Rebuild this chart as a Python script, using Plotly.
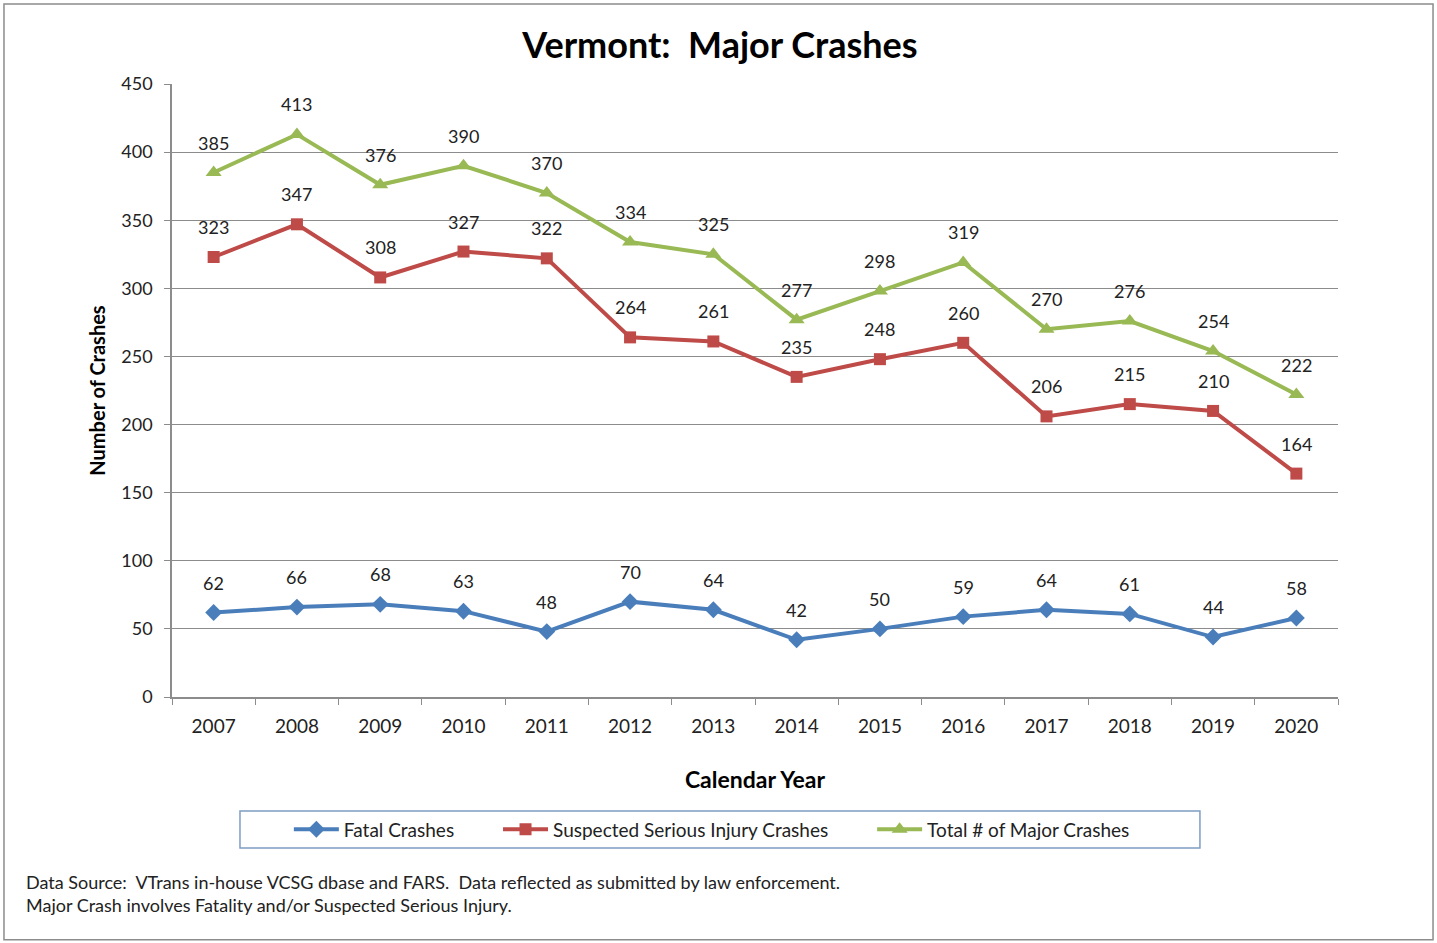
import plotly.graph_objects as go

years = ["2007", "2008", "2009", "2010", "2011", "2012", "2013", "2014", "2015", "2016", "2017", "2018", "2019", "2020"]
fatal = [62, 66, 68, 63, 48, 70, 64, 42, 50, 59, 64, 61, 44, 58]
serious = [323, 347, 308, 327, 322, 264, 261, 235, 248, 260, 206, 215, 210, 164]
total = [385, 413, 376, 390, 370, 334, 325, 277, 298, 319, 270, 276, 254, 222]
y_ticks = [0, 50, 100, 150, 200, 250, 300, 350, 400, 450]

BLUE = "#4A7EBB"
RED = "#BE4B48"
GREEN = "#98B954"
TXT = "#222222"
FONT = "Lato, 'Open Sans', sans-serif"
NB = "\u00a0"

fig = go.Figure()
series = [
    ("Fatal Crashes" + NB * 8, fatal, BLUE, "diamond", 13),
    ("Suspected Serious Injury Crashes" + NB * 8, serious, RED, "square", 12),
    ("Total # of Major Crashes", total, GREEN, "triangle-up", 14),
]
for name, vals, col, sym, sz in series:
    fig.add_trace(go.Scatter(
        x=years, y=vals, name=name, mode="lines+markers",
        line=dict(color=col, width=4),
        marker=dict(symbol=sym, size=sz, color=col),
    ))
    for i, yv in enumerate(vals):
        fig.add_annotation(x=i, y=yv, xref="x", yref="y", text=str(yv), showarrow=False,
                           yshift=30, font=dict(size=18, color=TXT, family=FONT))

fig.update_layout(
    width=1437, height=943,
    paper_bgcolor="white", plot_bgcolor="white",
    margin=dict(l=172, r=99, t=84, b=246),
    title=dict(text="<b>Vermont:  Major Crashes</b>", x=0.501, xanchor="center",
               y=0.952, yanchor="middle", font=dict(size=36, color="black", family=FONT)),
    font=dict(family=FONT, color=TXT),
    showlegend=True,
    legend=dict(orientation="h", x=0.463, xanchor="center", y=-0.216, yanchor="middle",
                borderwidth=0, bgcolor="rgba(0,0,0,0)",
                font=dict(size=19, color=TXT, family=FONT),
                itemwidth=45),
    xaxis=dict(
        type="category", range=[-0.5, 13.5],
        showline=True, linecolor="#8C8C8C", linewidth=1.5,
        ticks="outside", tickson="boundaries", ticklen=6, tickcolor="#8C8C8C",
        showgrid=False, ticklabelstandoff=11,
        tickfont=dict(size=19, color=TXT),
        title=dict(text="<b>Calendar Year</b>", font=dict(size=23, color="black"), standoff=36),
    ),
    yaxis=dict(
        range=[0, 450], tickvals=y_ticks,
        showline=True, linecolor="#8C8C8C", linewidth=1.5,
        ticks="outside", ticklen=6, tickcolor="#8C8C8C",
        showgrid=True, gridcolor="#8C8C8C", gridwidth=1,
        zeroline=False, ticklabelstandoff=8,
        tickfont=dict(size=18, color=TXT),
        title=dict(text="<b>Number of Crashes</b>", font=dict(size=20, color="black"), standoff=10),
    ),
)

fig.add_annotation(
    xref="paper", yref="paper", x=-0.127, y=-0.2806, xanchor="left", yanchor="top",
    align="left", showarrow=False,
    text="Data Source:  VTrans in-house VCSG dbase and FARS.  Data reflected as submitted by law enforcement.<br>Major Crash involves Fatality and/or Suspected Serious Injury.",
    font=dict(size=18, color=TXT, family=FONT),
)

# legend frame
fig.add_shape(type="rect", xref="paper", yref="paper",
              x0=0.0583, x1=0.8816, y0=-0.2463, y1=-0.186,
              line=dict(color="#7F9DC4", width=1.5), fillcolor="rgba(0,0,0,0)")
# outer chart frame
fig.add_shape(type="rect", xref="paper", yref="paper",
              x0=-0.1441, x1=1.0815, y0=-0.396, y1=1.1305,
              line=dict(color="#8C8C8C", width=1.5), fillcolor="rgba(0,0,0,0)")

fig.write_html("out.html", config={"displayModeBar": False},
               post_script="document.body.style.margin='0';")
